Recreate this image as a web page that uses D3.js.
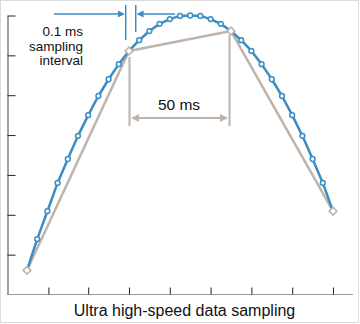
<!DOCTYPE html>
<html>
<head>
<meta charset="utf-8">
<script src="https://cdn.jsdelivr.net/npm/d3@7"></script>
<style>
  html, body { margin: 0; padding: 0; background: #fff; }
  svg { display: block; }
  text { font-family: "Liberation Sans", Arial, sans-serif; fill: #111; }
</style>
</head>
<body>
<svg id="chart" width="360" height="324"></svg>
<script>
// ---- data ----
const sampleIndex = d3.range(0, 31); // 0.1 ms samples
const fastValues = [0.61, 1.39, 2.09, 2.80, 3.40, 3.98, 4.50, 4.98, 5.40, 5.78,
                    6.11, 6.38, 6.61, 6.79, 6.91, 6.99, 7.00, 6.99, 6.91, 6.79,
                    6.61, 6.38, 6.11, 5.78, 5.40, 4.98, 4.50, 3.98, 3.40, 2.80, 2.09];
const slowIndex = [0, 10, 20, 30];         // 50 ms samples
const slowValues = [0.61, 6.11, 6.61, 2.09];
const yTickValues = [1, 2, 3, 4, 5, 6, 7];
const xTickValues = [2.1, 6, 10, 14, 18, 22, 26, 30];
const xLabel = "Ultra high-speed data sampling";
const fastLabel = ["0.1 ms", "sampling", "interval"];
const slowLabel = "50 ms";

// ---- styles ----
const blue = "#3b8dc3";
const gray = "#bfb3aa";

const svg = d3.select("#chart");

// frame
svg.append("rect").attr("x", 0.5).attr("y", 0.5).attr("width", 358).attr("height", 322)
  .attr("fill", "none").attr("stroke", "#dcdcdc");

const x = d3.scaleLinear().domain([0, 30]).range([27, 333]);
const y = d3.scaleLinear().domain([0, 7]).range([294.5, 15.5]);

// left axis (ticks pointing inward)
const yAxis = svg.append("g").attr("transform", "translate(7.5,0)")
  .call(d3.axisRight(y).tickValues(yTickValues).tickSize(8).tickSizeOuter(0).tickFormat(""));
yAxis.select(".domain").attr("stroke", "#444");
yAxis.selectAll(".tick line").attr("stroke", "#222");

// bottom axis
svg.append("line").attr("x1", 7).attr("x2", 353).attr("y1", 294.5).attr("y2", 294.5)
  .attr("stroke", "#999").attr("stroke-width", 1);
const xAxis = svg.append("g").attr("transform", "translate(0,294.5)")
  .call(d3.axisTop(x).tickValues(xTickValues).tickSize(7).tickSizeOuter(0).tickFormat(""));
xAxis.select(".domain").remove();
xAxis.selectAll(".tick line").attr("stroke", "#222");

svg.append("text").attr("x", 184.5).attr("y", 315.5).attr("text-anchor", "middle")
  .attr("font-size", 16).text(xLabel);

// slow sampling line
const slowData = slowIndex.map((d, i) => [d, slowValues[i]]);
const fastData = sampleIndex.map((d, i) => [d, fastValues[i]]);
const line = d3.line().x(d => x(d[0])).y(d => y(d[1]));

svg.append("path").datum(slowData).attr("d", line)
  .attr("fill", "none").attr("stroke", gray).attr("stroke-width", 2.5).attr("stroke-linejoin", "round");

// fast sampling line
svg.append("path").datum(fastData).attr("d", line)
  .attr("fill", "none").attr("stroke", blue).attr("stroke-width", 2.5).attr("stroke-linejoin", "round");
svg.append("g").selectAll("circle").data(fastData.filter(d => !slowIndex.includes(d[0])))
  .join("circle").attr("cx", d => x(d[0])).attr("cy", d => y(d[1])).attr("r", 2.4)
  .attr("fill", "#fff").attr("stroke", blue).attr("stroke-width", 1.5);

// diamonds
svg.append("g").selectAll("path").data(slowData).join("path")
  .attr("d", d3.symbol(d3.symbolSquare, 30))
  .attr("transform", d => `translate(${x(d[0])},${y(d[1])}) rotate(45)`)
  .attr("fill", "#fff").attr("stroke", gray).attr("stroke-width", 1.6);

// arrowhead helper
function arrowHead(g, tipX, tipY, dir, color, len, half) {
  const bx = tipX - dir * len;
  g.append("path").attr("d", `M${tipX},${tipY}L${bx},${tipY - half}L${bx},${tipY + half}Z`)
    .attr("fill", color);
}

// 0.1 ms annotation (blue)
const ann = svg.append("g");
const xa = x(9.68), xb = x(10.66), ay = 14;
ann.append("line").attr("x1", xa).attr("x2", xa).attr("y1", 5).attr("y2", 40)
  .attr("stroke", blue).attr("stroke-width", 1.5);
ann.append("line").attr("x1", xb).attr("x2", xb).attr("y1", 5).attr("y2", 32)
  .attr("stroke", blue).attr("stroke-width", 1.5);
ann.append("line").attr("x1", 54).attr("x2", xa - 4).attr("y1", ay).attr("y2", ay)
  .attr("stroke", blue).attr("stroke-width", 1.5);
ann.append("line").attr("x1", xb + 4).attr("x2", 175).attr("y1", ay).attr("y2", ay)
  .attr("stroke", blue).attr("stroke-width", 1.5);
arrowHead(ann, xa - 0.8, ay, 1, blue, 7, 3.5);
arrowHead(ann, xb + 0.8, ay, -1, blue, 7, 3.5);

const t1 = svg.append("text").attr("text-anchor", "end").attr("font-size", 13.5);
fastLabel.forEach((s, i) => {
  t1.append("tspan").attr("x", 83).attr("y", 36 + i * 14.7).text(s);
});

// 50 ms annotation (gray)
const g2 = svg.append("g");
const x1 = x(10) + 0.5, x2 = x(20) - 1.5, gy = 118;
g2.append("line").attr("x1", x1).attr("x2", x1).attr("y1", 57).attr("y2", 126)
  .attr("stroke", gray).attr("stroke-width", 2);
g2.append("line").attr("x1", x2).attr("x2", x2).attr("y1", 35).attr("y2", 126)
  .attr("stroke", gray).attr("stroke-width", 2);
g2.append("line").attr("x1", x1 + 6).attr("x2", x2 - 6).attr("y1", gy).attr("y2", gy)
  .attr("stroke", gray).attr("stroke-width", 2);
arrowHead(g2, x1 + 1.5, gy, -1, gray, 8, 4);
arrowHead(g2, x2 - 1.5, gy, 1, gray, 8, 4);
svg.append("text").attr("x", 179).attr("y", 110).attr("text-anchor", "middle")
  .attr("font-size", 15.5).text(slowLabel);
</script>
</body>
</html>
